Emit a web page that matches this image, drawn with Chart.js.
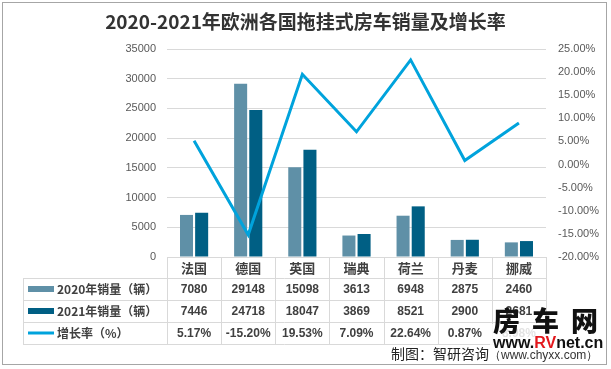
<!DOCTYPE html>
<html>
<head>
<meta charset="utf-8">
<script src="https://cdn.jsdelivr.net/npm/chart.js@4.4.0/dist/chart.umd.min.js"></script>
<style>
  html, body { margin: 0; padding: 0; background: #fff; }
  #wrap { position: relative; width: 611px; height: 369px; overflow: hidden; }
  canvas { position: absolute; left: 0; top: 0; }
  #veil { position: absolute; left: 490px; top: 324px; width: 115px; height: 38px; background: rgba(255,255,255,0.85); }
  #frame { position: absolute; left: 2px; top: 2px; width: 605px; height: 363px; border: 1px solid #a6a6a6; box-sizing: border-box; }
  #title { position: absolute; left: 0; top: 8px; width: 611px; text-align: center; font: bold 19px "Noto Sans CJK SC", sans-serif; color: #333; line-height: 26px; }
  #source { position: absolute; left: 391px; top: 343px; font: 14px "Noto Sans CJK SC", sans-serif; color: #222; line-height: 20px; white-space: nowrap; }
  #source span { font: 12px "Liberation Sans", sans-serif; color: #333; }
  #mark1 { position: absolute; left: 493px; top: 304px; font: 900 27px "Noto Sans CJK SC", sans-serif; color: #111; letter-spacing: 12px; line-height: 32px; }
  #mark2 { position: absolute; left: 493px; top: 334px; font: bold 16px "Liberation Sans", sans-serif; color: #111; line-height: 18px; }
  #mark2 b { color: #e3171c; }
</style>
</head>
<body>
<div id="wrap">
  <canvas id="chart" width="611" height="369"></canvas>
  <div id="veil"></div>
  <div id="frame"></div>
  <div id="title">2020-2021年欧洲各国拖挂式房车销量及增长率</div>
  <div id="source">制图：智研咨询<span>（www.chyxx.com）</span></div>
  <div id="mark1">房车网</div>
  <div id="mark2">www.<b>RV</b>net.cn</div>
</div>
<script>
const countries = ['法国', '德国', '英国', '瑞典', '荷兰', '丹麦', '挪威'];
const sales2020 = [7080, 29148, 15098, 3613, 6948, 2875, 2460];
const sales2021 = [7446, 24718, 18047, 3869, 8521, 2900, 2681];
const growth = [5.17, -15.20, 19.53, 7.09, 22.64, 0.87, 8.98];

const color2020 = '#5f90a7';
const color2021 = '#005f84';
const colorGrowth = '#00a3dc';
const gridColor = '#d9d9d9';
const textColor = '#404040';

// data table under the plot, columns follow the x scale
const dataTable = {
  id: 'dataTable',
  afterDraw(chart) {
    const ctx = chart.ctx;
    const x = chart.scales.x;
    const area = chart.chartArea;
    const step = x.getPixelForValue(1) - x.getPixelForValue(0);
    const colLeft = area.left;
    const colRight = area.left + step * countries.length;
    const tableLeft = 23;
    const rows = [area.bottom, area.bottom + 21, area.bottom + 43, area.bottom + 65, area.bottom + 87];

    ctx.save();
    ctx.strokeStyle = gridColor;
    ctx.lineWidth = 1;
    ctx.beginPath();
    ctx.moveTo(colLeft, Math.round(rows[0]) + 0.5);
    ctx.lineTo(colRight, Math.round(rows[0]) + 0.5);
    for (let r = 1; r < rows.length; r++) {
      ctx.moveTo(tableLeft, Math.round(rows[r]) + 0.5);
      ctx.lineTo(colRight, Math.round(rows[r]) + 0.5);
    }
    ctx.moveTo(tableLeft + 0.5, rows[1]);
    ctx.lineTo(tableLeft + 0.5, rows[4]);
    for (let i = 0; i <= countries.length; i++) {
      const px = Math.round(colLeft + step * i) + 0.5;
      ctx.moveTo(px, rows[0]);
      ctx.lineTo(px, rows[4]);
    }
    ctx.stroke();

    ctx.fillStyle = textColor;
    ctx.textAlign = 'center';
    ctx.textBaseline = 'middle';
    ctx.font = 'bold 13px "Noto Sans CJK SC", sans-serif';
    countries.forEach((c, i) => ctx.fillText(c, x.getPixelForValue(i), (rows[0] + rows[1]) / 2 + 1));

    const tableRows = [
      { label: '2020年销量（辆）', color: color2020, kind: 'bar', cells: sales2020.map(String) },
      { label: '2021年销量（辆）', color: color2021, kind: 'bar', cells: sales2021.map(String) },
      { label: '增长率（%）', color: colorGrowth, kind: 'line', cells: growth.map(v => v.toFixed(2) + '%') }
    ];
    tableRows.forEach((row, r) => {
      const cy = (rows[r + 1] + rows[r + 2]) / 2;
      ctx.fillStyle = row.color;
      ctx.strokeStyle = row.color;
      if (row.kind === 'bar') {
        ctx.fillRect(28, cy - 3, 26, 6);
      } else {
        ctx.lineWidth = 3;
        ctx.beginPath();
        ctx.moveTo(28, cy);
        ctx.lineTo(54, cy);
        ctx.stroke();
      }
      ctx.fillStyle = textColor;
      ctx.textAlign = 'left';
      ctx.font = 'bold 12px "Noto Sans CJK SC", sans-serif';
      ctx.fillText(row.label, 57, cy);
      ctx.textAlign = 'center';
      ctx.font = 'bold 12px "Liberation Sans", sans-serif';
      row.cells.forEach((t, i) => ctx.fillText(t, x.getPixelForValue(i), cy + 1));
    });
    ctx.restore();
  }
};

new Chart(document.getElementById('chart'), {
  type: 'bar',
  data: {
    labels: countries,
    datasets: [
      {
        type: 'line',
        label: '增长率（%）',
        data: growth,
        yAxisID: 'y1',
        borderColor: colorGrowth,
        borderWidth: 3,
        pointRadius: 0,
        tension: 0,
        order: 0
      },
      {
        label: '2020年销量（辆）',
        data: sales2020,
        backgroundColor: color2020,
        yAxisID: 'y',
        categoryPercentage: 0.56,
        barPercentage: 0.86,
        order: 1
      },
      {
        label: '2021年销量（辆）',
        data: sales2021,
        backgroundColor: color2021,
        yAxisID: 'y',
        categoryPercentage: 0.56,
        barPercentage: 0.86,
        order: 1
      }
    ]
  },
  options: {
    responsive: false,
    animation: false,
    devicePixelRatio: 1,
    layout: { padding: { left: 22, right: 0, top: 49, bottom: 91 } },
    plugins: {
      legend: { display: false },
      title: { display: false },
      tooltip: { enabled: false }
    },
    scales: {
      x: {
        grid: { display: false },
        border: { display: false },
        ticks: { display: false },
        afterFit(scale) { scale.height = 21; }
      },
      y: {
        position: 'left',
        min: 0,
        max: 35000,
        ticks: {
          stepSize: 5000,
          padding: 11,
          color: '#595959',
          font: { family: '"Liberation Sans", sans-serif', size: 11 },
          callback: v => String(v)
        },
        grid: { color: gridColor, drawTicks: false },
        border: { display: false },
        afterFit(scale) { scale.width = 145; }
      },
      y1: {
        position: 'right',
        min: -20,
        max: 25,
        ticks: {
          stepSize: 5,
          padding: 12,
          color: '#595959',
          font: { family: '"Liberation Sans", sans-serif', size: 11 },
          callback: v => v.toFixed(2) + '%'
        },
        grid: { display: false, drawTicks: false },
        border: { display: false },
        afterFit(scale) { scale.width = 65; }
      }
    }
  },
  plugins: [dataTable]
});
</script>
</body>
</html>
